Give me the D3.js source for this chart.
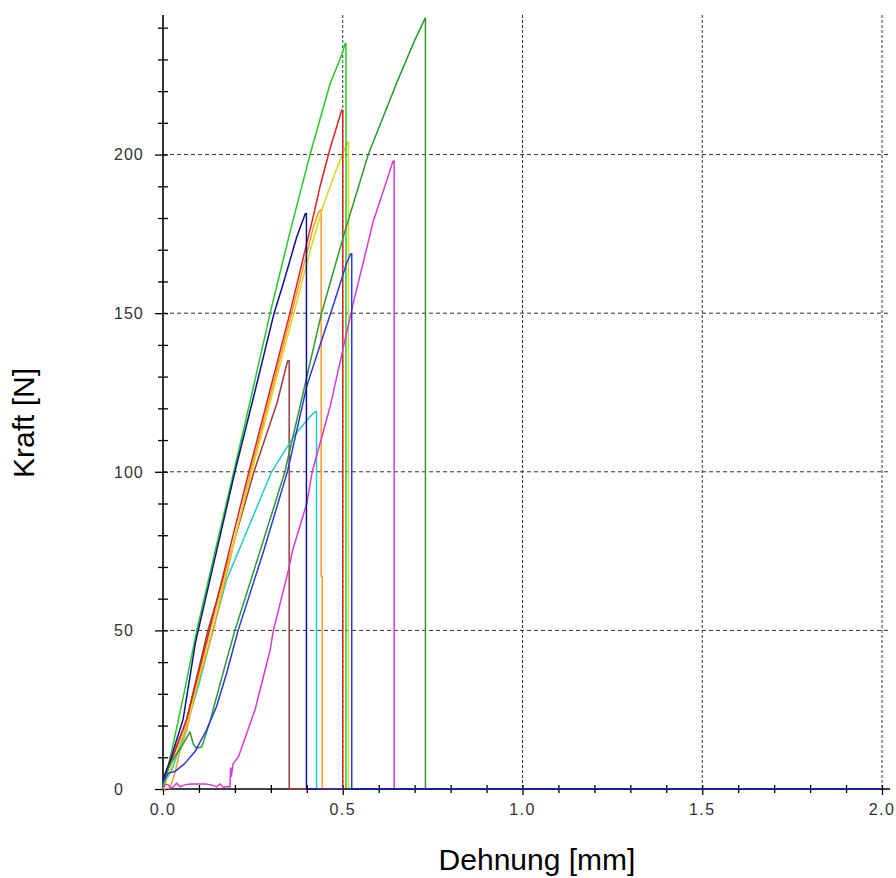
<!DOCTYPE html>
<html lang="de">
<meta charset="utf-8" />
<style>
  body { margin: 0; background: #fff; }
  text { font-family: "Liberation Sans", Arial, sans-serif; }
</style>
<svg width="896" height="878"></svg>
<script src="https://d3js.org/d3.v7.min.js"></script>
<script>
// Kraft-Dehnung Kurven, Werte: [Dehnung mm, Kraft N]
var brown = [[0,3],[0.02,8],[0.066,22],[0.125,50],[0.19,75],[0.253,100],[0.318,122],[0.34,132],[0.347,135],[0.351,135],[0.351,0]];
var cyan = [[0,1],[0.025,6],[0.06,18],[0.1,33],[0.139,50],[0.177,66],[0.223,78.5],[0.302,100],[0.367,111.7],[0.409,117.4],[0.424,119],[0.427,119],[0.427,0]];
var orange = [[0,0],[0.019,0.3],[0.033,5],[0.047,12],[0.066,18.6],[0.089,30],[0.14,50],[0.192,75],[0.244,100],[0.301,125],[0.358,150],[0.418,177],[0.432,181.6],[0.439,182.6],[0.44,182.6],[0.44,67],[0.443,67],[0.443,0]];
var yellow = [[0,0],[0.02,6],[0.07,22],[0.133,50],[0.19,75],[0.247,100],[0.305,125],[0.364,150],[0.41,170],[0.446,184],[0.478,194],[0.506,202],[0.514,204],[0.516,204],[0.516,0]];
var red = [[0,2],[0.02,8],[0.066,22],[0.129,50],[0.184,75],[0.239,100],[0.296,125],[0.353,150],[0.418,180.5],[0.437,190],[0.464,201.6],[0.497,214],[0.5,214],[0.5,0]];
var brightGreen = [[0,0],[0.01,5],[0.03,15],[0.06,31],[0.094,50],[0.145,75],[0.197,100],[0.248,125],[0.298,150],[0.352,175],[0.409,200],[0.464,222],[0.497,231.5],[0.507,235],[0.509,235],[0.509,0]];
var darkGreen = [[0,2],[0.02,8],[0.05,13],[0.075,18],[0.085,14],[0.094,12.8],[0.108,13.3],[0.13,21],[0.149,29],[0.177,40.7],[0.2,50],[0.27,75],[0.339,100],[0.39,125],[0.441,150],[0.506,175.8],[0.571,200],[0.65,222.6],[0.7,236],[0.725,242],[0.729,243],[0.73,243],[0.73,0]];
var magenta = [[0,0.5],[0.008,1.5],[0.015,1.3],[0.022,0.3],[0.029,0.7],[0.038,1.8],[0.047,0.7],[0.061,1.3],[0.07,1.5],[0.08,1.6],[0.098,1.6],[0.117,1.6],[0.135,1.3],[0.149,0.7],[0.159,1.6],[0.168,0.5],[0.177,0.8],[0.186,0.6],[0.188,6.6],[0.19,4],[0.195,8],[0.21,10.2],[0.256,25],[0.284,37.5],[0.298,43.8],[0.307,50],[0.349,69],[0.36,75],[0.4,90],[0.415,100],[0.465,120.6],[0.529,153],[0.585,179],[0.62,191],[0.64,198],[0.643,198],[0.643,0]];
var blue = [[0,2],[0.015,5],[0.033,5.5],[0.06,8],[0.089,11.8],[0.121,18.6],[0.149,26],[0.177,36.5],[0.209,50],[0.28,75],[0.346,100],[0.4,127],[0.437,140],[0.475,153],[0.511,165.8],[0.522,168.7],[0.525,168.7],[0.525,0]];
var navy = [[0,3],[0.02,9],[0.056,22],[0.09,46],[0.098,50],[0.2,100],[0.255,125],[0.309,150],[0.335,159.5],[0.372,174],[0.396,181.4],[0.399,181.4],[0.399,0]];

var curves = [brown, cyan, orange, yellow, red, brightGreen, darkGreen, magenta, blue, navy];
var curveColors = ["#a33a3a", "#22cccc", "#ff9a22", "#d8d820", "#dd2222", "#22cc22", "#2e9a2e", "#d43cd4", "#2a3ae0", "#10108f"];

var yMajor = [0, 50, 100, 150, 200];
var yTickLabels = ["0", "50", "100", "150", "200"];
var xMajor = [0, 0.5, 1.0, 1.5, 2.0];
var xTickLabels = ["0.0", "0.5", "1.0", "1.5", "2.0"];

var svg = d3.select("svg");

var x = d3.scaleLinear().domain([0, 2]).range([163, 882]);
var y = d3.scaleLinear().domain([0, 244]).range([789, 15]);

// Gitter
svg.append("g").selectAll("line")
  .data(yMajor.filter(function(d) { return d > 0; }))
  .enter().append("line")
    .attr("x1", x(0)).attr("x2", 890)
    .attr("y1", function(d) { return y(d); })
    .attr("y2", function(d) { return y(d); })
    .attr("stroke", "#333")
    .attr("stroke-dasharray", "4,3");

svg.append("g").selectAll("line")
  .data(xMajor.filter(function(d) { return d > 0; }))
  .enter().append("line")
    .attr("x1", function(d) { return x(d); })
    .attr("x2", function(d) { return x(d); })
    .attr("y1", y(244)).attr("y2", y(0))
    .attr("stroke", "#333")
    .attr("stroke-dasharray", "3,2");

// Achsen
function isMajor(list, d) {
  return list.some(function(m) { return Math.abs(m - d) < 1e-9; });
}

var yAxis = svg.append("g")
  .attr("transform", "translate(" + x(0) + ",0)")
  .call(d3.axisLeft(y).tickValues(d3.range(0, 241, 10)).tickSize(5).tickFormat(""));
yAxis.select(".domain").remove();
yAxis.selectAll(".tick line")
  .attr("x1", 5)
  .attr("x2", function(d) { return isMajor(yMajor, d) ? -8 : -5; })
  .attr("stroke", "#000")
  .attr("stroke-width", 1.3);

var xAxis = svg.append("g")
  .attr("transform", "translate(0," + y(0) + ")")
  .call(d3.axisBottom(x).tickValues(d3.range(0, 21).map(function(i) { return i / 10; })).tickSize(4).tickFormat(""));
xAxis.select(".domain").remove();
xAxis.selectAll(".tick line")
  .attr("y1", -4)
  .attr("y2", function(d) { return isMajor(xMajor, d) ? 6 : 4; })
  .attr("stroke", "#000")
  .attr("stroke-width", 1.3);

svg.append("line")
  .attr("x1", x(0)).attr("x2", x(0))
  .attr("y1", y(244)).attr("y2", y(0))
  .attr("stroke", "#000").attr("stroke-width", 1.6);
svg.append("line")
  .attr("x1", x(0)).attr("x2", 890)
  .attr("y1", y(0)).attr("y2", y(0))
  .attr("stroke", "#000").attr("stroke-width", 1.6);

// Beschriftung
svg.append("g").selectAll("text")
  .data(yMajor)
  .enter().append("text")
    .attr("x", 114)
    .attr("y", function(d) { return y(d); })
    .attr("dy", "0.36em")
    .attr("font-size", 16)
    .attr("letter-spacing", 1)
    .attr("fill", "#333")
    .text(function(d, i) { return yTickLabels[i]; });

svg.append("g").selectAll("text")
  .data(xMajor)
  .enter().append("text")
    .attr("x", function(d) { return x(d); })
    .attr("y", 815)
    .attr("text-anchor", "middle")
    .attr("font-size", 16)
    .attr("letter-spacing", 1.5)
    .attr("fill", "#333")
    .text(function(d, i) { return xTickLabels[i]; });

svg.append("text")
  .attr("transform", "translate(34,423) rotate(-90)")
  .attr("text-anchor", "middle")
  .attr("font-size", 30)
  .attr("fill", "#000")
  .text("Kraft [N]");

svg.append("text")
  .attr("x", 537)
  .attr("y", 870)
  .attr("text-anchor", "middle")
  .attr("font-size", 30)
  .attr("fill", "#000")
  .text("Dehnung [mm]");

// Kurven, nach dem Bruch bei 0 bis zum Ende
var line = d3.line()
  .x(function(d) { return x(d[0]); })
  .y(function(d) { return y(d[1]); });

svg.append("g").selectAll("path")
  .data(curves)
  .enter().append("path")
    .attr("fill", "none")
    .attr("stroke", function(d, i) { return curveColors[i]; })
    .attr("stroke-width", 1.5)
    .attr("stroke-linejoin", "round")
    .attr("d", function(d) { return line(d.concat([[2, 0]])); });
</script>
</html>
